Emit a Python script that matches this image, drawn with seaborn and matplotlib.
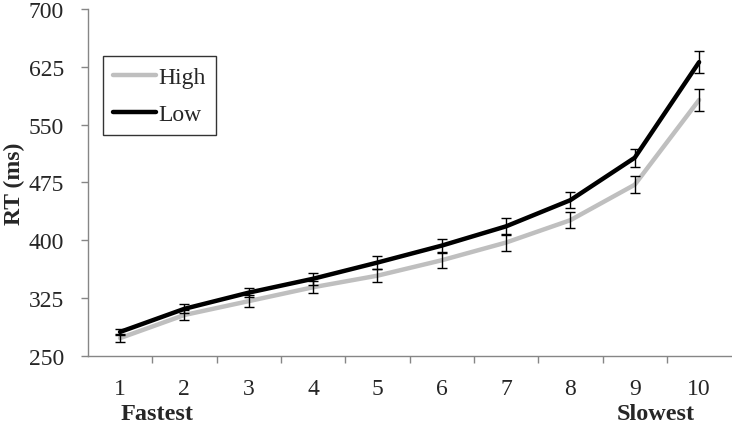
import matplotlib
matplotlib.use("Agg")
import matplotlib.pyplot as plt
import seaborn as sns
import pandas as pd
import numpy as np

bins = [1, 2, 3, 4, 5, 6, 7, 8, 9, 10]
high_rt = [273, 303, 321, 339, 354, 374, 397, 426, 472, 582]
high_err = [5, 7, 8, 8, 8.5, 9.5, 11, 10, 11, 14]
low_rt = [281, 311, 332, 350, 371, 393, 418, 452, 507, 631]
low_err = [4, 6, 5.5, 7.5, 8, 8.5, 11, 10.5, 11.5, 14]
y_ticks = [250, 325, 400, 475, 550, 625, 700]

sns.set_theme(style="white")
plt.rcParams['font.family'] = ['Liberation Serif', 'DejaVu Serif']

FS = 17

df = pd.DataFrame({
    "bin": bins * 2,
    "RT": high_rt + low_rt,
    "Group": ["High"] * len(bins) + ["Low"] * len(bins),
})

fig = plt.figure(figsize=(7.32, 4.31), dpi=100)
ax = fig.add_axes([0.120, 0.172, 0.879, 0.805])

sns.lineplot(data=df, x="bin", y="RT", hue="Group",
             palette={"High": "#BFBFBF", "Low": "#000000"},
             linewidth=3.2, ax=ax, legend=True, zorder=2)

for y, e in ((high_rt, high_err), (low_rt, low_err)):
    ax.errorbar(bins, y, yerr=e, fmt="none", ecolor="black",
                elinewidth=1.0, capsize=3.3, capthick=1.0, zorder=3)

ax.set_xlim(0.5, 10.5)
ax.set_ylim(250, 700)
ax.set_yticks(y_ticks)
ax.set_yticklabels([str(t) for t in y_ticks], fontsize=FS)
ax.set_xticks(bins)
ax.set_xticklabels([str(b) for b in bins], fontsize=FS)
ax.set_xticks(np.arange(1.5, 10.5, 1), minor=True)
ax.tick_params(axis="x", which="major", length=0, pad=16)
ax.tick_params(axis="x", which="minor", length=5, width=1, color="#868686",
               direction="out", bottom=True)
ax.tick_params(axis="y", which="major", length=5, width=1, color="#868686",
               direction="out", left=True, pad=12)

for side in ("top", "right"):
    ax.spines[side].set_visible(False)
for side in ("left", "bottom"):
    ax.spines[side].set_color("#868686")
    ax.spines[side].set_linewidth(1.0)

ax.set_xlabel("")
ax.set_ylabel("RT (ms)", fontsize=FS, fontweight="bold")
ax.yaxis.set_label_coords(-0.098, 0.5)

ax.text(1.57, -0.167, "Fastest", transform=ax.get_xaxis_transform(),
        ha="center", va="center", fontsize=17.5, fontweight="bold")
ax.text(9.33, -0.167, "Slowest", transform=ax.get_xaxis_transform(),
        ha="center", va="center", fontsize=17.5, fontweight="bold")

handles, labels = ax.get_legend_handles_labels()
leg = ax.legend(handles, labels, loc="upper left", bbox_to_anchor=(0.023, 0.865),
                frameon=True, fancybox=False, fontsize=FS, handlelength=1.8,
                handletextpad=0.1, borderpad=0.45, labelspacing=0.65,
                borderaxespad=0)
leg.get_frame().set_edgecolor("black")
leg.get_frame().set_linewidth(1.0)
for line in leg.get_lines():
    line.set_linewidth(3.2)

fig.savefig("out.png", dpi=100)
